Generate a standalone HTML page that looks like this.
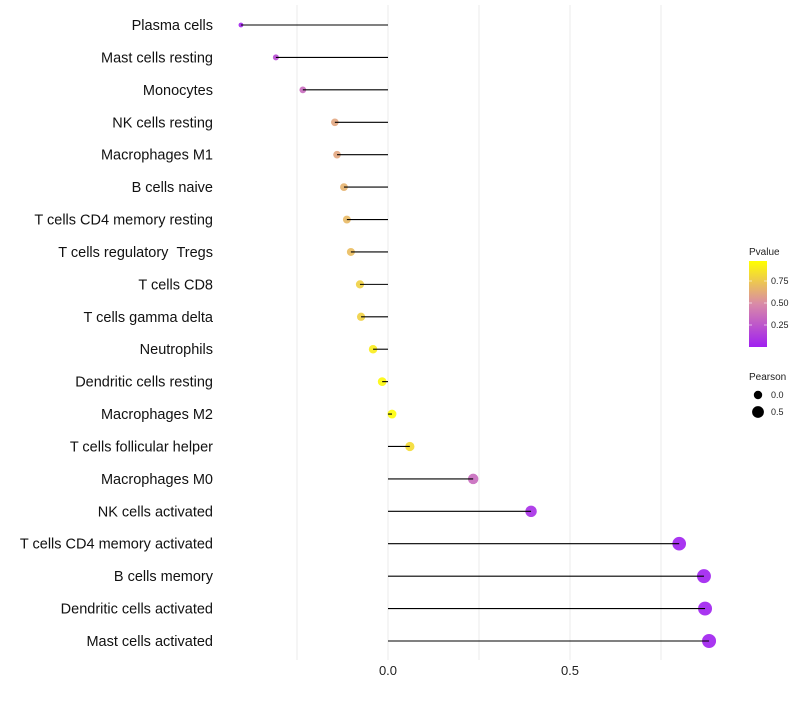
<!DOCTYPE html>
<html><head><meta charset="utf-8"><style>
body{margin:0;background:#fff;font-family:"Liberation Sans",sans-serif}
</style></head><body>
<svg id="chart" width="800" height="700" xmlns="http://www.w3.org/2000/svg">
<defs><linearGradient id="pg" x1="0" y1="1" x2="0" y2="0">
<stop offset="0" stop-color="#A020F0"/><stop offset="0.5" stop-color="#D98AA8"/><stop offset="1" stop-color="#FFFF00"/></linearGradient></defs>
<g id="grid"></g><g id="marks"></g><g id="labels"></g>
<g font-size="9" fill="#222">
<text x="749" y="255" font-size="10">Pvalue</text>
<rect x="749" y="261" width="18" height="86" fill="url(#pg)"/>
<g stroke="#fff" stroke-opacity="0.6"><line x1="749" x2="752" y1="281" y2="281"/><line x1="764" x2="767" y1="281" y2="281"/><line x1="749" x2="752" y1="303" y2="303"/><line x1="764" x2="767" y1="303" y2="303"/><line x1="749" x2="752" y1="325" y2="325"/><line x1="764" x2="767" y1="325" y2="325"/></g>
<text x="771" y="284">0.75</text><text x="771" y="306">0.50</text><text x="771" y="328">0.25</text>
<text x="749" y="380" font-size="10">Pearson</text>
<circle cx="758" cy="395" r="4.2" fill="#000"/><text x="771" y="398">0.0</text>
<circle cx="758" cy="412" r="5.9" fill="#000"/><text x="771" y="415">0.5</text>
</g>
</svg>
<script>
const categories=["Plasma cells","Mast cells resting","Monocytes","NK cells resting","Macrophages M1","B cells naive","T cells CD4 memory resting","T cells regulatory\u00a0\u00a0Tregs","T cells CD8","T cells gamma delta","Neutrophils","Dendritic cells resting","Macrophages M2","T cells follicular helper","Macrophages M0","NK cells activated","T cells CD4 memory activated","B cells memory","Dendritic cells activated","Mast cells activated"];
const pearson=[-0.404,-0.308,-0.234,-0.146,-0.140,-0.121,-0.113,-0.102,-0.077,-0.074,-0.041,-0.016,0.011,0.060,0.234,0.393,0.800,0.868,0.871,0.882];
const pvalues=[0.02,0.2,0.35,0.62,0.62,0.67,0.7,0.72,0.8,0.8,0.92,0.97,0.99,0.85,0.35,0.06,0.001,0.001,0.001,0.001];
const xTicks=[-0.25,0,0.25,0.5,0.75];
const xTickLabels=["","0.0","","0.5",""];
const NS="http://www.w3.org/2000/svg";
const xs=v=>388+364*v;
const ys=i=>25+i*(616/19);
const rs=p=>Math.max(1.6,Math.sqrt(Math.max(0,19.4+33.7*p)));
function lerp(a,b,t){return a.map((x,k)=>Math.round(x+(b[k]-x)*t));}
function col(p){const A=[160,32,240],M=[217,138,168],B=[255,255,0];const c=p<0.5?lerp(A,M,p/0.5):lerp(M,B,(p-0.5)/0.5);return `rgb(${c})`;}
function mk(tag,attrs,parent){const e=document.createElementNS(NS,tag);for(const k in attrs)e.setAttribute(k,attrs[k]);parent.appendChild(e);return e;}
const grid=document.getElementById('grid'),marks=document.getElementById('marks'),labels=document.getElementById('labels');
xTicks.forEach((t,i)=>{
 const l=mk('line',{x1:xs(t),x2:xs(t),y1:5,y2:660,stroke:'#ebebeb','stroke-width':1},grid);
 
 
 if(xTickLabels[i]){const tx=mk('text',{x:xs(t),y:675,'text-anchor':'middle','font-size':13,fill:'#222'},labels);tx.textContent=xTickLabels[i];
 
 }
});
categories.forEach((c,i)=>{
 const y=ys(i);
 const dot=mk('circle',{cx:xs(pearson[i]),cy:y,r:rs(pearson[i]),fill:col(pvalues[i]),'fill-opacity':0.9},marks);
 
 
 const seg=mk('line',{x1:xs(0),x2:xs(pearson[i]),y1:y,y2:y,stroke:'#000','stroke-width':1.1},marks);
 
 
 const tx=mk('text',{x:213,y:y+5,'text-anchor':'end','font-size':14.5,fill:'#111'},labels);
 tx.textContent=c;
 
 
});
</script>
</body></html>
